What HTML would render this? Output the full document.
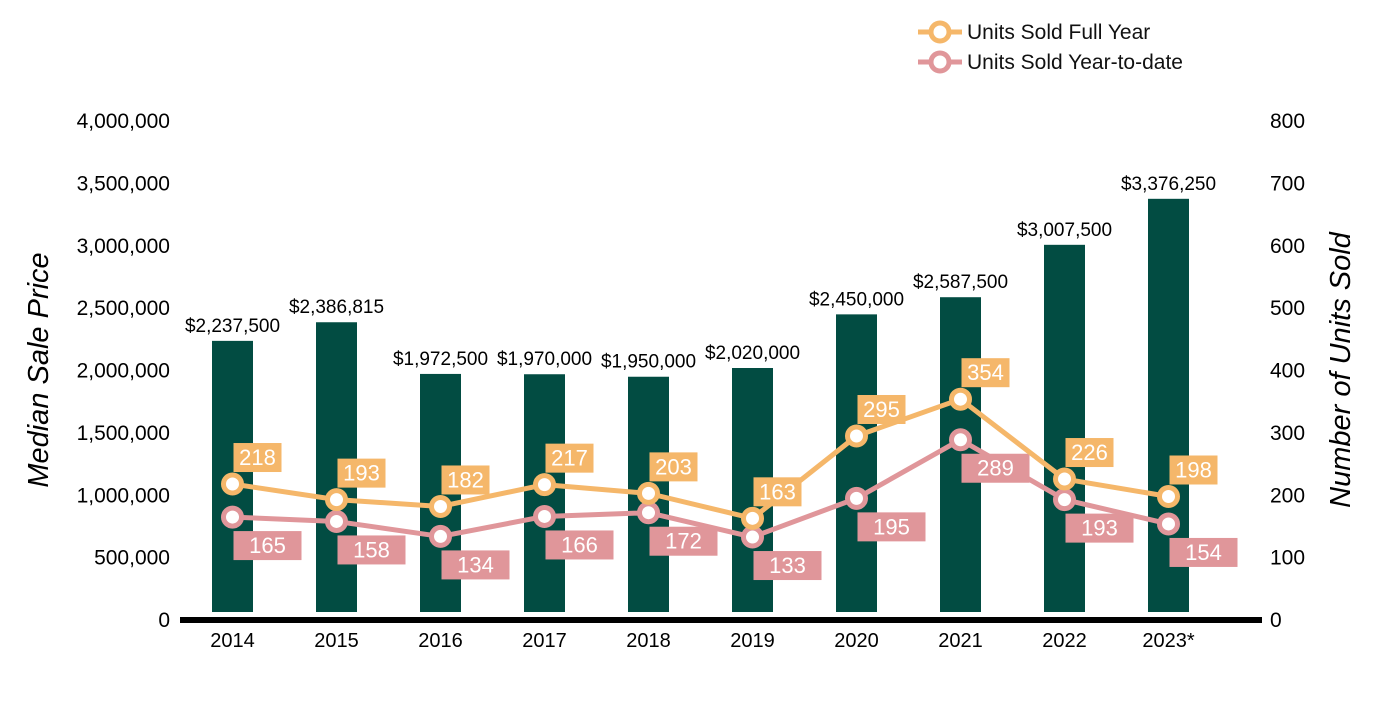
<!DOCTYPE html>
<html><head><meta charset="utf-8"><style>
body{margin:0;background:#fff;}
svg text{font-family:"Liberation Sans",Arial,sans-serif;}
</style></head><body>
<svg id="chart" width="1400" height="700" viewBox="0 0 1400 700" xmlns="http://www.w3.org/2000/svg">
<g id="legend">
 <g>
  <line x1="918" y1="32" x2="962" y2="32" stroke="#f5b76a" stroke-width="5"/>
  <circle cx="940" cy="32" r="9" fill="#fff" stroke="#f5b76a" stroke-width="5"/>
  <text x="967" y="39" font-size="21" fill="#111">Units Sold Full Year</text>
 </g>
 <g>
  <line x1="918" y1="62" x2="962" y2="62" stroke="#e0969a" stroke-width="5"/>
  <circle cx="940" cy="62" r="9" fill="#fff" stroke="#e0969a" stroke-width="5"/>
  <text x="967" y="69" font-size="21" fill="#111">Units Sold Year-to-date</text>
 </g>
</g>
<text transform="translate(48,370) rotate(-90)" text-anchor="middle" font-size="29" font-style="italic" fill="#000">Median Sale Price</text>
<text transform="translate(1350,370) rotate(-90)" text-anchor="middle" font-size="29" font-style="italic" fill="#000">Number of Units Sold</text>
<g id="g-left"></g>
<g id="g-right"></g>
<g id="g-bars"></g>
<line x1="180" y1="620" x2="1262" y2="620" stroke="#000" stroke-width="6"/>
<g id="g-x"></g>
<g id="g-lines"></g>
</svg>
<script>
const categories=["2014","2015","2016","2017","2018","2019","2020","2021","2022","2023*"];
const prices=[2237500,2386815,1972500,1970000,1950000,2020000,2450000,2587500,3007500,3376250];
const priceLabels=["$2,237,500","$2,386,815","$1,972,500","$1,970,000","$1,950,000","$2,020,000","$2,450,000","$2,587,500","$3,007,500","$3,376,250"];
const unitsFull=[218,193,182,217,203,163,295,354,226,198];
const unitsYTD=[165,158,134,166,172,133,195,289,193,154];
const leftTicks=[0,500000,1000000,1500000,2000000,2500000,3000000,3500000,4000000];
const rightTicks=[0,100,200,300,400,500,600,700,800];

const NS="http://www.w3.org/2000/svg";
const y0=620,yTop=121;
const yL=v=>y0-(v/4000000)*(y0-yTop);
const yR=v=>y0-(v/800)*(y0-yTop);
const xC=i=>232.5+i*104;
function mk(tag,attrs,parent,txt){const e=document.createElementNS(NS,tag);for(const k in attrs)e.setAttribute(k,attrs[k]);if(txt!==undefined)e.textContent=txt;parent.appendChild(e);return e;}
const gl=document.getElementById('g-left'),gr=document.getElementById('g-right'),gb=document.getElementById('g-bars'),gx=document.getElementById('g-x'),gln=document.getElementById('g-lines');
leftTicks.forEach(v=>{const t=mk('text',{x:170,y:yL(v)+7,'text-anchor':'end','font-size':21,fill:'#000'},gl,v.toLocaleString('en-US'));

});
rightTicks.forEach(v=>{const t=mk('text',{x:1270,y:yR(v)+7,'font-size':21,fill:'#000'},gr,String(v));

});
categories.forEach((c,i)=>{
 const b=mk('rect',{x:xC(i)-20.5,y:yL(prices[i]),width:41,height:Math.max(0,612-yL(prices[i])),fill:'#024c42'},gb);
 
 
 const l=mk('text',{x:xC(i),y:yL(prices[i])-9,'text-anchor':'middle','font-size':19,fill:'#000'},gb,priceLabels[i]);
 
 
 const xl=mk('text',{x:xC(i),y:647,'text-anchor':'middle','font-size':20,fill:'#000'},gx,c);
 
 
});
function series(vals,color,name,above){
 const pts=vals.map((v,i)=>xC(i)+','+yR(v)).join(' ');
 const pl=mk('polyline',{points:pts,fill:'none',stroke:color,'stroke-width':5,'stroke-linejoin':'round'},gln);
 
 
 vals.forEach((v,i)=>{
  const c=mk('circle',{cx:xC(i),cy:yR(v),r:9,fill:'#fff',stroke:color,'stroke-width':5},gln);
  
  
  const w=above?48:68,h=29,bx=xC(i)+1,by=above?yR(v)-12-h:yR(v)+14;
  const r=mk('rect',{x:bx,y:by,width:w,height:h,fill:color},gln);
  
  
  const t=mk('text',{x:bx+w/2,y:by+22,'text-anchor':'middle','font-size':22,fill:'#fff'},gln,String(v));
  
  
 });
}
series(unitsYTD,'#e0969a','units-ytd',false);
series(unitsFull,'#f5b76a','units-full',true);
</script>
</body></html>
